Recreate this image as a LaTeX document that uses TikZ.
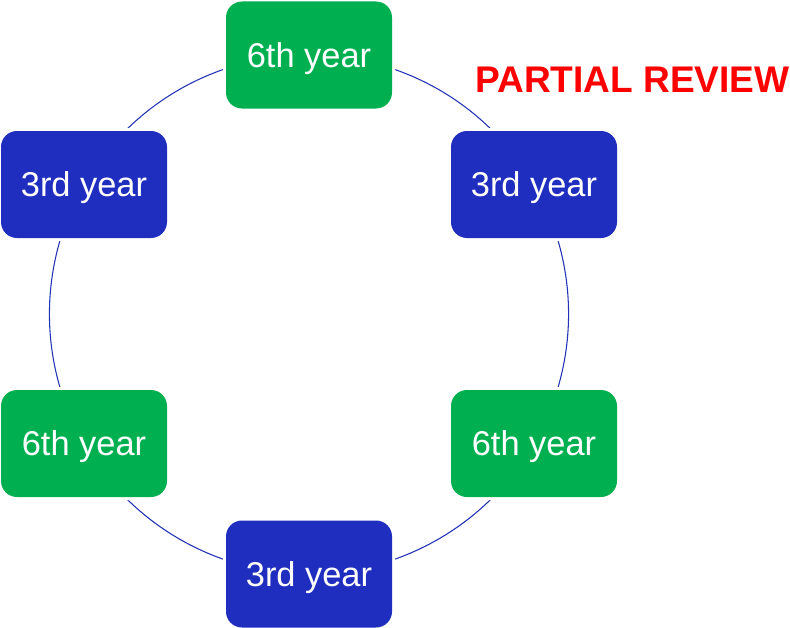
\documentclass[tikz,border=0pt]{standalone}
\usepackage{fontspec}
\setmainfont{Liberation Sans}
\usetikzlibrary{backgrounds}
\definecolor{yeargreen}{HTML}{00B050}
\definecolor{yearblue}{HTML}{1F2EBF}
\definecolor{ringblue}{HTML}{2233B5}
\begin{document}
\begin{tikzpicture}[x=0.75pt,y=-0.75pt,
  yearbox/.style={rounded corners=12pt, minimum width=124.5pt, minimum height=80.25pt,
    text=white, font=\fontsize{25.8}{30}\selectfont, inner sep=0pt, text depth=0pt,
    preaction={draw=white, line width=4.5pt}},
  sixth/.style={yearbox, fill=yeargreen},
  third/.style={yearbox, fill=yearblue},
  ring/.style={draw=ringblue, line width=0.8pt, bend left=30, looseness=0.9126}]
  \useasboundingbox (0,0) rectangle (790,628);
  % six review stages around the cycle
  \node[sixth] (top) at (309,55)    {6th year};
  \node[third] (rt)  at (534,184.5) {3rd year};
  \node[sixth] (rb)  at (534,443.5) {6th year};
  \node[third] (bot) at (309,574)   {3rd year};
  \node[sixth] (lb)  at (84,443.5)  {6th year};
  \node[third] (lt)  at (84,184.5)  {3rd year};
  \node[anchor=base west, text=red, font=\bfseries\fontsize{27.8}{32}\selectfont, inner sep=0pt]
    (title) at (475,92) {PARTIAL REVIEW};
  % circular arcs joining the stages
  \begin{scope}[on background layer]
    \draw[ring] (top.center) to (rt.center);
    \draw[ring] (rt.center) to (rb.center);
    \draw[ring] (rb.center) to (bot.center);
    \draw[ring] (bot.center) to (lb.center);
    \draw[ring] (lb.center) to (lt.center);
    \draw[ring] (lt.center) to (top.center);
  \end{scope}
\end{tikzpicture}
\end{document}
